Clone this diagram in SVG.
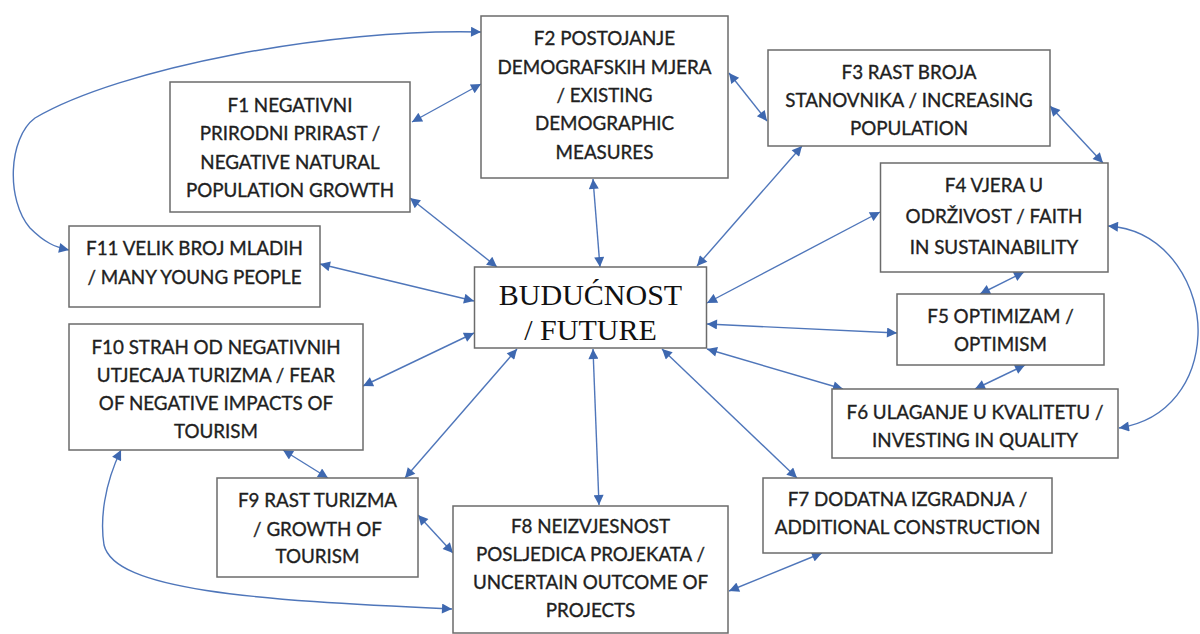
<svg xmlns="http://www.w3.org/2000/svg" width="1200" height="634" viewBox="0 0 1200 634">
<style>
.box{fill:#fff;stroke:#6b6b6b;stroke-width:1.5}
.t{font-family:Lato,"Open Sans",sans-serif;font-size:18.8px;fill:#1f1f1f;stroke:#1f1f1f;stroke-width:0.35;text-anchor:middle}
.big{font-family:"Liberation Serif","Times New Roman",serif;font-size:30px;fill:#111;text-anchor:middle}
.c{fill:none;stroke:#4f76ba;stroke-width:1.4;marker-start:url(#ah);marker-end:url(#ah)}
</style>
<defs>
<marker id="ah" viewBox="0 0 10 10" refX="10" refY="5" markerWidth="12" markerHeight="10" markerUnits="userSpaceOnUse" orient="auto-start-reverse">
<path d="M0 0L10 5L0 10z" fill="#3e68b0"/>
</marker>
</defs>
<rect width="1200" height="634" fill="#fff"/>
<g id="connectors">
<path class="c" d="M412 122L481 84"/>
<path class="c" d="M481 32C330 28 120 68 35 118C8 138 6 200 30 228C45 243 55 247 69 250"/>
<path class="c" d="M410 198L497 267"/>
<path class="c" d="M320 264L474 301"/>
<path class="c" d="M593 179L600 267"/>
<path class="c" d="M729 73L767 121"/>
<path class="c" d="M802 146L697 266"/>
<path class="c" d="M1050 106L1103 163"/>
<path class="c" d="M880 212L707 303"/>
<path class="c" d="M1024 272L980 294"/>
<path class="c" d="M1108 226C1170 230 1200 290 1198 335C1196 380 1170 420 1119 428"/>
<path class="c" d="M707 324L897 333"/>
<path class="c" d="M707 349L843 389"/>
<path class="c" d="M1025 365L975 389"/>
<path class="c" d="M662 349L797 478"/>
<path class="c" d="M822 553L729 591"/>
<path class="c" d="M593 349L599 505"/>
<path class="c" d="M474 333L363 386"/>
<path class="c" d="M517 349L405 478"/>
<path class="c" d="M283 450L328 478"/>
<path class="c" d="M418 515L453 553"/>
<path class="c" d="M121 450C104 485 100 520 104 545C115 590 250 600 452 609"/>
</g>
<g id="F2"><rect class="box" x="481" y="16" width="247" height="162"/>
<text class="t"><tspan x="604.5" y="44.5">F2 POSTOJANJE</tspan><tspan x="604.5" y="73.5">DEMOGRAFSKIH MJERA</tspan><tspan x="604.5" y="101.5">/ EXISTING</tspan><tspan x="604.5" y="129.5">DEMOGRAPHIC</tspan><tspan x="604.5" y="158.5">MEASURES</tspan></text></g>
<g id="F1"><rect class="box" x="170" y="82" width="240" height="130"/>
<text class="t"><tspan x="290" y="111.5">F1 NEGATIVNI</tspan><tspan x="290" y="139.5">PRIRODNI PRIRAST /</tspan><tspan x="290" y="168.5">NEGATIVE NATURAL</tspan><tspan x="290" y="196.5">POPULATION GROWTH</tspan></text></g>
<g id="F11"><rect class="box" x="69" y="226" width="251" height="81"/>
<text class="t"><tspan x="194.5" y="254.5">F11 VELIK BROJ MLADIH</tspan><tspan x="194.5" y="283.5">/ MANY YOUNG PEOPLE</tspan></text></g>
<g id="BUD"><rect class="box" x="474.5" y="267" width="232" height="81"/>
<text class="big"><tspan x="590.5" y="305">BUDUĆNOST</tspan><tspan x="590.5" y="340">/ FUTURE</tspan></text></g>
<g id="F3"><rect class="box" x="768" y="50" width="282" height="96"/>
<text class="t"><tspan x="909" y="78.5">F3 RAST BROJA</tspan><tspan x="909" y="106.5">STANOVNIKA / INCREASING</tspan><tspan x="909" y="134.5">POPULATION</tspan></text></g>
<g id="F4"><rect class="box" x="880.5" y="163" width="227.5" height="109"/>
<text class="t"><tspan x="994" y="191.5">F4 VJERA U</tspan><tspan x="994" y="222.5">ODRŽIVOST / FAITH</tspan><tspan x="994" y="253.5">IN SUSTAINABILITY</tspan></text></g>
<g id="F5"><rect class="box" x="897" y="294" width="207" height="71"/>
<text class="t"><tspan x="1000.5" y="322.5">F5 OPTIMIZAM /</tspan><tspan x="1000.5" y="350.5">OPTIMISM</tspan></text></g>
<g id="F6"><rect class="box" x="832" y="389" width="286" height="69"/>
<text class="t"><tspan x="975" y="418.5">F6 ULAGANJE U KVALITETU /</tspan><tspan x="975" y="446.5">INVESTING IN QUALITY</tspan></text></g>
<g id="F7"><rect class="box" x="763" y="478" width="289" height="75"/>
<text class="t"><tspan x="907.5" y="505.5">F7 DODATNA IZGRADNJA /</tspan><tspan x="907.5" y="533.5">ADDITIONAL CONSTRUCTION</tspan></text></g>
<g id="F8"><rect class="box" x="453" y="506" width="275" height="127"/>
<text class="t"><tspan x="590.5" y="532.5">F8 NEIZVJESNOST</tspan><tspan x="590.5" y="560.5">POSLJEDICA PROJEKATA /</tspan><tspan x="590.5" y="588.5">UNCERTAIN OUTCOME OF</tspan><tspan x="590.5" y="617">PROJECTS</tspan></text></g>
<g id="F10"><rect class="box" x="69" y="324" width="294" height="126"/>
<text class="t"><tspan x="216" y="353.5">F10 STRAH OD NEGATIVNIH</tspan><tspan x="216" y="382">UTJECAJA TURIZMA / FEAR</tspan><tspan x="216" y="409.5">OF NEGATIVE IMPACTS OF</tspan><tspan x="216" y="437.5">TOURISM</tspan></text></g>
<g id="F9"><rect class="box" x="217" y="478" width="201" height="99"/>
<text class="t"><tspan x="317.5" y="507">F9 RAST TURIZMA</tspan><tspan x="317.5" y="535.5">/ GROWTH OF</tspan><tspan x="317.5" y="563">TOURISM</tspan></text></g>
</svg>
